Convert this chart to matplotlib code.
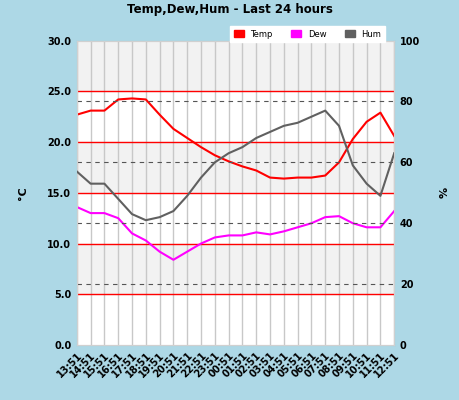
import matplotlib
matplotlib.use("Agg")
import matplotlib.pyplot as plt
import matplotlib.patches as mpatches

# hourly readings, last 24 hours
times = ["13:51", "14:51", "15:51", "16:51", "17:51", "18:51", "19:51", "20:51",
         "21:51", "22:51", "23:51", "00:51", "01:51", "02:51", "03:51", "04:51",
         "05:51", "06:51", "07:51", "08:51", "09:51", "10:51", "11:51", "12:51"]
temp = [22.7, 23.1, 23.1, 24.2, 24.3, 24.2, 22.7, 21.3, 20.4, 19.5, 18.7, 18.1,
        17.6, 17.2, 16.5, 16.4, 16.5, 16.5, 16.7, 18.0, 20.3, 22.0, 22.9, 20.6]
dew = [13.6, 13.0, 13.0, 12.5, 11.0, 10.3, 9.2, 8.4, 9.2, 10.0, 10.6, 10.8,
       10.8, 11.1, 10.9, 11.2, 11.6, 12.0, 12.6, 12.7, 12.0, 11.6, 11.6, 13.2]
hum = [57, 53, 53, 48, 43, 41, 42, 44, 49, 55, 60, 63,
       65, 68, 70, 72, 73, 75, 77, 72, 59, 53, 49, 63]

bg = "#add8e6"
fig = plt.figure(figsize=(4.6, 4.0), dpi=100, facecolor=bg)
ax = fig.add_axes([0.167, 0.1375, 0.69, 0.761])
ax.set_facecolor("white")
x = range(len(times))
ax.set_xlim(0, len(times) - 1)
ax.set_ylim(0, 30)

# alternating bands
for lo in [5, 15, 25]:
    ax.axhspan(lo, lo + 5, color="#f2f2f2", zorder=0)
for i in x:
    ax.axvline(i, color="#c8c8c8", lw=1, zorder=1)
for v in [5, 10, 15, 20, 25]:
    ax.axhline(v, color="red", lw=1, zorder=2)

ax2 = ax.twinx()
ax2.set_ylim(0, 100)
for v in [20, 40, 60, 80]:
    ax2.axhline(v, color="#555555", lw=0.8, ls=(0, (4, 4)), zorder=2)

ax.plot(x, temp, color="red", lw=1.5, zorder=5)
ax.plot(x, dew, color="magenta", lw=1.5, zorder=5)
ax2.plot(x, hum, color="#606060", lw=1.5, zorder=5)

ax.set_yticks([0, 5, 10, 15, 20, 25, 30])
ax.set_yticklabels(["%.1f" % v for v in [0, 5, 10, 15, 20, 25, 30]],
                   fontsize=7, fontweight="bold")
ax2.set_yticks([0, 20, 40, 60, 80, 100])
ax2.set_yticklabels(["0", "20", "40", "60", "80", "100"], fontsize=7, fontweight="bold")
ax.set_xticks(list(x))
ax.set_xticklabels(times, rotation=45, ha="right", rotation_mode="anchor",
                   fontsize=7, fontweight="bold")
for a in (ax, ax2):
    a.tick_params(length=0, pad=4)
    for s in a.spines.values():
        s.set_color("#d0d0d0")
ax.set_ylabel("°C", fontsize=8, fontweight="bold", labelpad=14)
ax2.set_ylabel("%", fontsize=8, fontweight="bold", labelpad=14)

fig.text(0.5, 0.975, "Temp,Dew,Hum - Last 24 hours", ha="center", va="center",
         fontsize=8.5, fontweight="bold")

handles = [mpatches.Patch(color="red", label="Temp"),
           mpatches.Patch(color="magenta", label="Dew"),
           mpatches.Patch(color="#606060", label="Hum")]
leg = fig.legend(handles=handles, loc="upper right", bbox_to_anchor=(0.845, 0.945),
                 ncol=3, fontsize=6, frameon=True, fancybox=False, framealpha=1,
                 edgecolor="white", handlelength=1.2, handleheight=0.9,
                 columnspacing=2.2, borderpad=0.4)
leg.set_zorder(10)

fig.savefig("out.png", dpi=100, facecolor=bg)
